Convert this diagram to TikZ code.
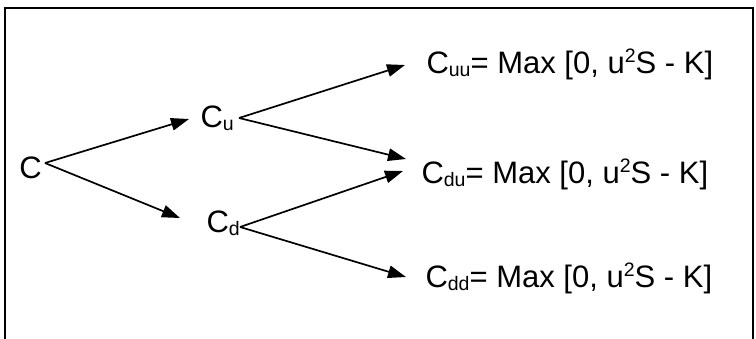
\documentclass[tikz,border=0pt]{standalone}
\usepackage{fontspec}
\setmainfont{Liberation Sans}
\usetikzlibrary{arrows.meta}
\newcommand\mysub[1]{\raisebox{-0.12em}{\fontsize{19.5}{19.5}\selectfont #1}}
\newcommand\mysup[1]{\raisebox{0.34em}{\fontsize{19.5}{19.5}\selectfont #1}}
\begin{document}
\begin{tikzpicture}[x=1pt,y=-1pt,
  lbl/.style={anchor=base west,inner sep=0pt,outer sep=0pt,font=\fontsize{31}{37}\selectfont},
  arr/.style={line width=1.7pt,-{Triangle[length=18pt,width=12.5pt]}},
  frame/.style={line width=2pt}]
\useasboundingbox (0,0) rectangle (756,338);
\draw[frame] (5,340) -- (5,8) -- (753,8) -- (753,340);
\node[lbl] (C)   at (19.5,178) {C};
\node[lbl] (Cu)  at (200.5,127) {C\mysub{u}};
\node[lbl] (Cd)  at (206.5,232) {C\mysub{d}};
\node[lbl] (Cuu) at (426.5,73) {C\mysub{uu}= Max [0, u\mysup{2}S - K]};
\node[lbl] (Cdu) at (421.5,183) {C\mysub{du}= Max [0, u\mysup{2}S - K]};
\node[lbl] (Cdd) at (425.5,287) {C\mysub{dd}= Max [0, u\mysup{2}S - K]};
\draw[arr] ([shift={(3.1,-15)}]C.base east) -- ([shift={(-11.5,-8)}]Cu.base west);
\draw[arr] ([shift={(3.1,-15)}]C.base east) -- ([shift={(-26.5,-14)}]Cd.base west);
\draw[arr] ([shift={(5.3,-9)}]Cu.base east) -- ([shift={(-21.5,-8)}]Cuu.base west);
\draw[arr] ([shift={(5.3,-9)}]Cu.base east) -- ([shift={(-15.5,-24)}]Cdu.base west);
\draw[arr] ([shift={(0.3,-5)}]Cd.base east) -- ([shift={(-18.5,-12)}]Cdu.base west);
\draw[arr] ([shift={(0.3,-5)}]Cd.base east) -- ([shift={(-19.5,-10)}]Cdd.base west);
\end{tikzpicture}
\end{document}
